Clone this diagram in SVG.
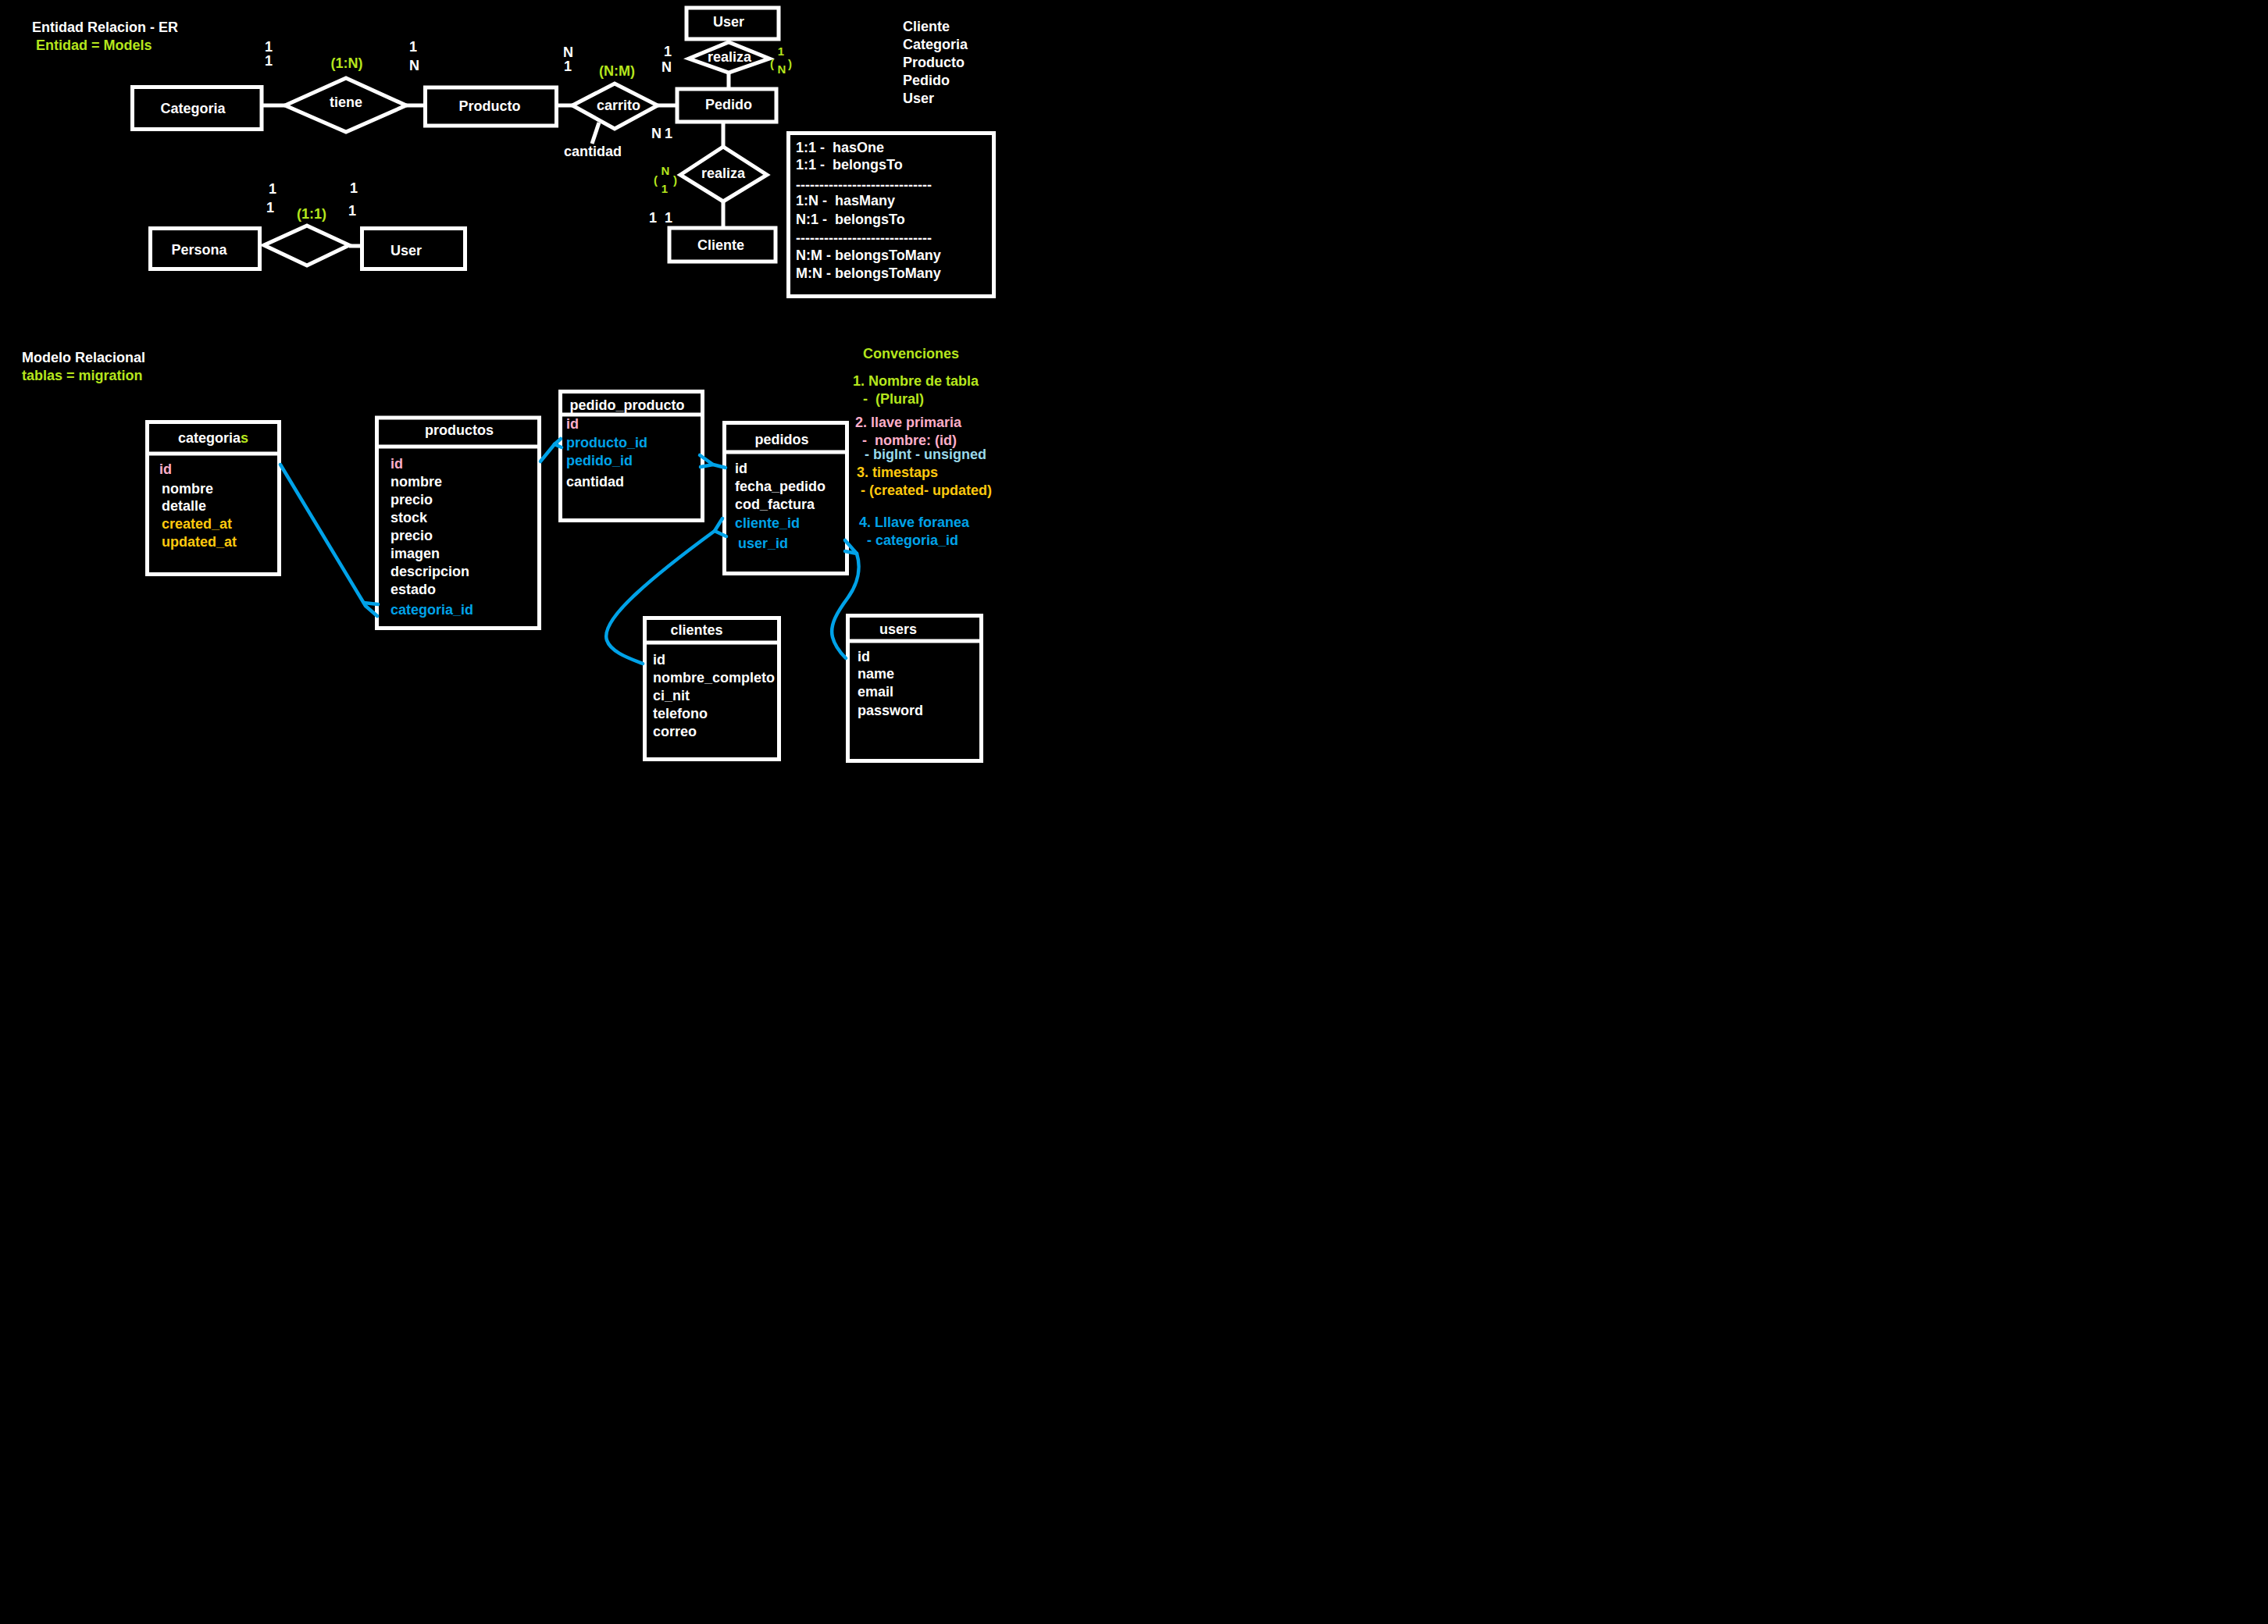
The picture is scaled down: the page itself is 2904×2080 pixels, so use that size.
<svg xmlns="http://www.w3.org/2000/svg" width="2904" height="2080" viewBox="0 0 2904 2080">
  <style>
    .t { font-family: "Liberation Sans", Arial, sans-serif; font-weight: bold; font-size: 18px; fill: #ffffff; white-space: pre; }
    .c { text-anchor: middle; }
    .sm { font-size: 15px; }
    .g { fill: #b5e61d; }
    .p { fill: #ffaec9; }
    .o { fill: #ffc90e; }
    .b { fill: #00a2e8; }
    .lb { fill: #99d9ea; }
    .box { fill: #000000; stroke: #ffffff; stroke-width: 5; }
    .ln { fill: none; stroke: #ffffff; stroke-width: 5; }
    .fk { fill: none; stroke: #00a2e8; stroke-width: 4.5; stroke-linecap: round; stroke-linejoin: round; }
  </style>

  <rect x="0" y="0" width="2904" height="2080" fill="#000000"/>

  <!-- Titles -->
  <g id="titles">
    <text class="t" x="41" y="41">Entidad Relacion - ER</text>
    <text class="t g" x="46" y="64">Entidad = Models</text>
    <text class="t" x="28" y="464">Modelo Relacional</text>
    <text class="t g" x="28" y="487">tablas = migration</text>
  </g>

  <!-- ER connectors -->
  <g id="er-connectors">
    <line class="ln" x1="335" y1="135" x2="365" y2="135"/>
    <line class="ln" x1="520" y1="135" x2="546" y2="135"/>
    <line class="ln" x1="713" y1="135" x2="733" y2="135"/>
    <line class="ln" x1="842" y1="135" x2="867" y2="135"/>
    <line class="ln" x1="767" y1="157" x2="758" y2="184"/>
    <line class="ln" x1="933" y1="50" x2="933" y2="54"/>
    <line class="ln" x1="933" y1="93" x2="933" y2="114"/>
    <line class="ln" x1="926" y1="156" x2="926" y2="188"/>
    <line class="ln" x1="926" y1="258" x2="926" y2="292"/>
    <line class="ln" x1="447" y1="315" x2="463" y2="315"/>
  </g>

  <!-- ER entities -->
  <g id="er-categoria">
    <rect class="box" x="169.5" y="111.5" width="165.5" height="54"/>
    <text class="t c" x="247" y="145">Categoria</text>
  </g>
  <g id="er-tiene">
    <polygon class="ln" points="365,135 443,100 520,135 443,169"/>
    <text class="t c" x="443" y="137">tiene</text>
  </g>
  <g id="er-producto">
    <rect class="box" x="544.5" y="112" width="168" height="49"/>
    <text class="t c" x="627" y="142">Producto</text>
  </g>
  <g id="er-carrito">
    <polygon class="ln" points="733,135 787,107 842,135 787,165"/>
    <text class="t c" x="792" y="141">carrito</text>
    <text class="t c" x="759" y="200">cantidad</text>
  </g>
  <g id="er-pedido">
    <rect class="box" x="867" y="114" width="127" height="42"/>
    <text class="t c" x="933" y="140">Pedido</text>
  </g>
  <g id="er-user-top">
    <rect class="box" x="879" y="10" width="118" height="40"/>
    <text class="t c" x="933" y="34">User</text>
  </g>
  <g id="er-realiza-user">
    <polygon class="ln" points="882,75 933,54 985,75 933,93"/>
    <text class="t c" x="934" y="79">realiza</text>
  </g>
  <g id="er-realiza-cliente">
    <polygon class="ln" points="871,224 926,188 982,224 926,258"/>
    <text class="t c" x="926" y="228">realiza</text>
  </g>
  <g id="er-cliente">
    <rect class="box" x="857" y="292" width="136" height="43"/>
    <text class="t c" x="923" y="320">Cliente</text>
  </g>
  <g id="er-persona">
    <rect class="box" x="192.5" y="292.5" width="140" height="52"/>
    <text class="t c" x="255" y="326">Persona</text>
  </g>
  <g id="er-persona-user">
    <polygon class="ln" points="338,314 393,289 447,314 393,340"/>
  </g>
  <g id="er-user">
    <rect class="box" x="463.5" y="292.5" width="132" height="52"/>
    <text class="t c" x="520" y="327">User</text>
  </g>

  <!-- ER cardinalities -->
  <g id="er-cardinality">
    <text class="t" x="339" y="66">1</text>
    <text class="t" x="339" y="84">1</text>
    <text class="t c g" x="444" y="87">(1:N)</text>
    <text class="t" x="524" y="66">1</text>
    <text class="t" x="524" y="90">N</text>

    <text class="t" x="344" y="248">1</text>
    <text class="t" x="341" y="272">1</text>
    <text class="t c g" x="399" y="280">(1:1)</text>
    <text class="t" x="448" y="247">1</text>
    <text class="t" x="446" y="276">1</text>

    <text class="t" x="721" y="73">N</text>
    <text class="t" x="722" y="91">1</text>
    <text class="t c g" x="790" y="97">(N:M)</text>
    <text class="t" x="850" y="72">1</text>
    <text class="t" x="847" y="92">N</text>

    <text class="t sm g" x="986" y="87">(</text>
    <text class="t sm c g" x="1000" y="71">1</text>
    <text class="t sm c g" x="1001" y="94">N</text>
    <text class="t sm g" x="1009" y="87">)</text>

    <text class="t" x="834" y="177">N</text>
    <text class="t" x="851" y="177">1</text>
    <text class="t sm g" x="837" y="236">(</text>
    <text class="t sm c g" x="852" y="224">N</text>
    <text class="t sm c g" x="851" y="247">1</text>
    <text class="t sm g" x="862" y="236">)</text>
    <text class="t" x="831" y="285">1</text>
    <text class="t" x="851" y="285">1</text>
  </g>

  <!-- Model list -->
  <g id="model-list">
    <text class="t" x="1156" y="40">Cliente</text>
    <text class="t" x="1156" y="63">Categoria</text>
    <text class="t" x="1156" y="86">Producto</text>
    <text class="t" x="1156" y="109">Pedido</text>
    <text class="t" x="1156" y="132">User</text>
  </g>

  <!-- Relationship legend -->
  <g id="legend">
    <rect class="box" x="1009.5" y="170.5" width="263" height="209"/>
    <text class="t" x="1019" y="195">1:1 -  hasOne</text>
    <text class="t" x="1019" y="217">1:1 -  belongsTo</text>
    <text class="t" x="1019" y="243" textLength="174" lengthAdjust="spacing">-----------------------------</text>
    <text class="t" x="1019" y="263">1:N -  hasMany</text>
    <text class="t" x="1019" y="287">N:1 -  belongsTo</text>
    <text class="t" x="1019" y="311" textLength="174" lengthAdjust="spacing">-----------------------------</text>
    <text class="t" x="1019" y="333">N:M - belongsToMany</text>
    <text class="t" x="1019" y="356">M:N - belongsToMany</text>
  </g>

  <!-- Naming conventions -->
  <g id="conventions">
    <text class="t g" x="1105" y="459">Convenciones</text>
    <text class="t g" x="1092" y="494">1. Nombre de tabla</text>
    <text class="t g" x="1105" y="517">-  (Plural)</text>
    <text class="t p" x="1095" y="547">2. llave primaria</text>
    <text class="t p" x="1104" y="570">-  nombre: (id)</text>
    <text class="t lb" x="1107" y="588">- bigInt - unsigned</text>
    <text class="t o" x="1097" y="611">3. timestaps</text>
    <text class="t o" x="1102" y="634">- (created- updated)</text>
    <text class="t b" x="1100" y="675">4. Lllave foranea</text>
    <text class="t b" x="1110" y="698">- categoria_id</text>
  </g>

  <!-- Tables -->
  <g id="tbl-categorias">
    <rect class="box" x="188.5" y="540.5" width="169" height="195"/>
    <line class="ln" x1="188" y1="581" x2="358" y2="581"/>
    <text class="t c" x="273" y="567">categoria<tspan class="g">s</tspan></text>
    <text class="t p" x="204" y="607">id</text>
    <text class="t" x="207" y="632">nombre</text>
    <text class="t" x="207" y="654">detalle</text>
    <text class="t o" x="207" y="677">created_at</text>
    <text class="t o" x="207" y="700">updated_at</text>
  </g>

  <g id="tbl-productos">
    <rect class="box" x="482.5" y="535" width="208" height="269.5"/>
    <line class="ln" x1="482" y1="572" x2="691" y2="572"/>
    <text class="t c" x="588" y="557">productos</text>
    <text class="t p" x="500" y="600">id</text>
    <text class="t" x="500" y="623">nombre</text>
    <text class="t" x="500" y="646">precio</text>
    <text class="t" x="500" y="669">stock</text>
    <text class="t" x="500" y="692">precio</text>
    <text class="t" x="500" y="715">imagen</text>
    <text class="t" x="500" y="738">descripcion</text>
    <text class="t" x="500" y="761">estado</text>
    <text class="t b" x="500" y="787">categoria_id</text>
  </g>

  <g id="tbl-pedido-producto">
    <rect class="box" x="717.5" y="501.5" width="182" height="165"/>
    <line class="ln" x1="717" y1="531" x2="900" y2="531"/>
    <text class="t c" x="803" y="525">pedido_producto</text>
    <text class="t p" x="725" y="549">id</text>
    <text class="t b" x="725" y="573">producto_id</text>
    <text class="t b" x="725" y="596">pedido_id</text>
    <text class="t" x="725" y="623">cantidad</text>
  </g>

  <g id="tbl-pedidos">
    <rect class="box" x="927.5" y="541.5" width="157" height="193"/>
    <line class="ln" x1="927" y1="579" x2="1085" y2="579"/>
    <text class="t c" x="1001" y="569">pedidos</text>
    <text class="t" x="941" y="606">id</text>
    <text class="t" x="941" y="629">fecha_pedido</text>
    <text class="t" x="941" y="652">cod_factura</text>
    <text class="t b" x="941" y="676">cliente_id</text>
    <text class="t b" x="945" y="702">user_id</text>
  </g>

  <g id="tbl-clientes">
    <rect class="box" x="825.5" y="791.5" width="172" height="181"/>
    <line class="ln" x1="825" y1="823" x2="998" y2="823"/>
    <text class="t c" x="892" y="813">clientes</text>
    <text class="t" x="836" y="851">id</text>
    <text class="t" x="836" y="874">nombre_completo</text>
    <text class="t" x="836" y="897">ci_nit</text>
    <text class="t" x="836" y="920">telefono</text>
    <text class="t" x="836" y="943">correo</text>
  </g>

  <g id="tbl-users">
    <rect class="box" x="1085.5" y="788.5" width="171" height="186"/>
    <line class="ln" x1="1085" y1="821" x2="1257" y2="821"/>
    <text class="t c" x="1150" y="812">users</text>
    <text class="t" x="1098" y="847">id</text>
    <text class="t" x="1098" y="869">name</text>
    <text class="t" x="1098" y="892">email</text>
    <text class="t" x="1098" y="916">password</text>
  </g>

  <!-- Foreign key connectors -->
  <g id="fk-connectors">
    <!-- categorias.id -> productos.categoria_id -->
    <path class="fk" d="M359,595 L468,776 L483,789"/>
    <path class="fk" d="M466,772 L484,774"/>
    <!-- productos.id -> pedido_producto.producto_id -->
    <path class="fk" d="M692,591 L710,569"/>
    <path class="fk" d="M710,569 L718,562"/>
    <path class="fk" d="M710,569 L719,573"/>
    <!-- pedido_producto.pedido_id -> pedidos.id -->
    <path class="fk" d="M896,583 L913,595 L929,599"/>
    <path class="fk" d="M897,598 L913,595"/>
    <!-- pedidos.cliente_id -> clientes.id -->
    <path class="fk" d="M925,664 L915,680 L930,687"/>
    <path class="fk" d="M915,680 C885,702 845,732 815,760 C790,783 772,805 777,820 C782,835 805,843 823,850"/>
    <!-- pedidos.user_id -> users.id -->
    <path class="fk" d="M1082,692 L1097,709"/>
    <path class="fk" d="M1082,706 L1097,709"/>
    <path class="fk" d="M1097,709 C1103,728 1098,748 1086,765 C1072,784 1062,800 1066,816 C1069,828 1076,836 1083,843"/>
  </g>
</svg>
